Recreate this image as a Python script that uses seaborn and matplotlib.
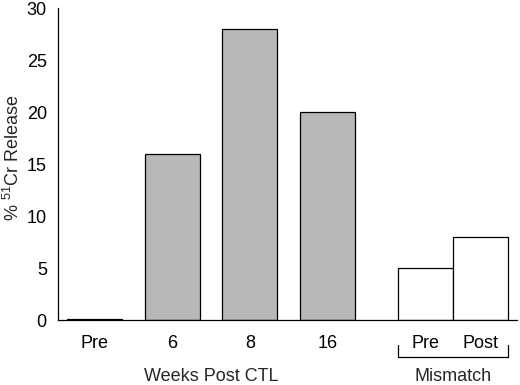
import matplotlib
matplotlib.use("Agg")
import matplotlib.pyplot as plt
import seaborn as sns
import pandas as pd

# data
labels = ['Pre', '6', '8', '16', 'Pre', 'Post']
release = [0.1, 16, 28, 20, 5, 8]
groups = ['ctl', 'ctl', 'ctl', 'ctl', 'mismatch', 'mismatch']
yticks = [0, 5, 10, 15, 20, 25, 30]

# layout positions (bar slots)
xpos = [0, 1, 2, 3, 4.26, 4.97]
width = 0.71
fs = 13

sns.set_theme(style='ticks')
plt.rcParams['font.family'] = ['Liberation Sans', 'DejaVu Sans']
plt.rcParams['mathtext.fontset'] = 'custom'
plt.rcParams['mathtext.rm'] = 'Liberation Sans'

df = pd.DataFrame({'x': xpos, 'y': release, 'group': groups, 'label': labels})

fig = plt.figure(figsize=(5.2, 3.85), dpi=100)
ax = fig.add_axes([0.1115, 0.1688, 0.8825, 0.8102])

sns.barplot(data=df, x='x', y='y', hue='group', native_scale=True,
            palette={'ctl': '#b8b8b8', 'mismatch': 'white'},
            edgecolor='black', linewidth=0.9, width=width, legend=False, ax=ax)
# center bars on their slots
for p, x in zip(sorted(ax.patches, key=lambda r: r.get_x()), xpos):
    p.set_width(width)
    p.set_x(x - width / 2)

ax.set_xlim(-0.477, 5.445)
ax.set_ylim(0, 30)
ax.set_yticks(yticks)
ax.set_xticks(xpos)
ax.set_xticklabels(labels)
ax.tick_params(axis='both', length=0, labelsize=fs, colors='black')
ax.tick_params(axis='x', pad=11)
ax.tick_params(axis='y', pad=8)
ax.set_xlabel('')
ax.set_ylabel('')
fig.text(0.024, 0.59, '% $^{51}$Cr Release', rotation=90, ha='center', va='center',
         fontsize=fs)
sns.despine(ax=ax)
for s in ['left', 'bottom']:
    ax.spines[s].set_color('black')
    ax.spines[s].set_linewidth(0.9)

# group labels below
tr = ax.get_xaxis_transform()
ax.text(1.5, -0.18, 'Weeks Post CTL', transform=tr, ha='center', va='center', fontsize=fs)
ax.text(4.615, -0.18, 'Mismatch', transform=tr, ha='center', va='center', fontsize=fs)
x0 = xpos[4] - width / 2
x1 = xpos[5] + width / 2
ax.plot([x0, x0, x1, x1], [-0.08, -0.118, -0.118, -0.08], transform=tr,
        color='black', lw=0.9, clip_on=False)

fig.savefig('out.png', dpi=100)
